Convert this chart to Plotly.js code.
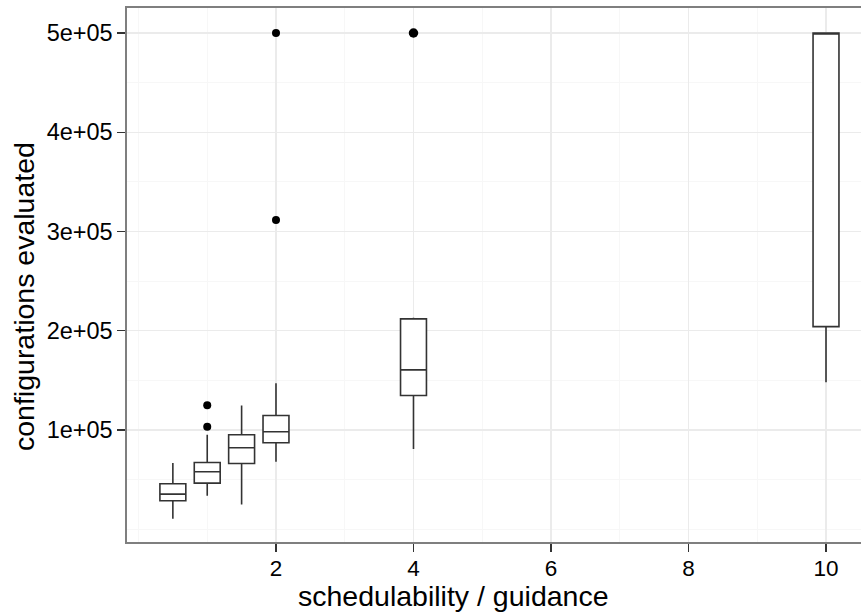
<!DOCTYPE html>
<html>
<head>
<meta charset="utf-8">
<script src="https://cdn.plot.ly/plotly-3.0.1.min.js"></script>
<style>html,body{margin:0;padding:0;background:#fff;}#chart{width:861px;height:612px;}</style>
</head>
<body>
<div id="chart"></div>
<script>
// box positions (schedulability / guidance)
const ratio = [0.5, 1, 1.5, 2, 4, 10];
// box statistics (configurations evaluated)
const lowerWhisker = [10600, 33700, 25000, 68000, 80800, 148200];
const q1 = [28700, 46500, 66300, 87100, 134700, 204200];
const median = [35400, 57900, 82100, 98200, 160600, 500000];
const q3 = [45800, 67300, 95200, 114600, 212000, 500000];
const upperWhisker = [66800, 95200, 124700, 147200, 213000, 500000];
// outliers
const outlierX = [1, 1, 2, 2, 4];
const outlierY = [125000, 103200, 311700, 500000, 500000];
const outlierSize = [8, 8, 8, 8, 9.5];
// axis ticks
const xTicks = [2, 4, 6, 8, 10];
const yTicks = [100000, 200000, 300000, 400000, 500000];
const yTickText = ['1e+05', '2e+05', '3e+05', '4e+05', '5e+05'];

const font = 'Liberation Sans, Arial, Helvetica, sans-serif';

const traces = [
  {
    type: 'box',
    x: ratio,
    q1: q1,
    median: median,
    q3: q3,
    lowerfence: lowerWhisker,
    upperfence: upperWhisker,
    width: 0.377,
    whiskerwidth: 0,
    boxpoints: false,
    fillcolor: '#ffffff',
    line: {color: '#333333', width: 1.6},
    hoverinfo: 'skip',
    showlegend: false
  },
  {
    type: 'scatter',
    mode: 'markers',
    x: outlierX,
    y: outlierY,
    marker: {color: '#000000', size: outlierSize, opacity: 1, line: {width: 0}},
    hoverinfo: 'skip',
    showlegend: false
  }
];

const layout = {
  width: 861,
  height: 612,
  margin: {l: 127, r: 0, t: 8, b: 70},
  paper_bgcolor: '#ffffff',
  plot_bgcolor: '#ffffff',
  showlegend: false,
  xaxis: {
    range: [-0.167, 10.509],
    tickvals: xTicks,
    ticktext: xTicks.map(String),
    ticks: 'outside',
    ticklen: 8,
    tickwidth: 1.3,
    tickcolor: '#333333',
    ticklabelstandoff: -3,
    tickfont: {family: font, size: 22.5, color: '#000000'},
    showgrid: true,
    gridcolor: '#ebebeb',
    gridwidth: 1.2,
    minor: {dtick: 1, tick0: 0, showgrid: true, gridcolor: '#f7f7f7', gridwidth: 1, ticks: ''},
    zeroline: false,
    showline: true,
    linecolor: '#7f7f7f',
    linewidth: 1.6,
    mirror: true,
    title: {text: ''}
  },
  yaxis: {
    range: [-12846, 525190],
    tickvals: yTicks,
    ticktext: yTickText,
    ticks: 'outside',
    ticklen: 8,
    tickwidth: 1.3,
    tickcolor: '#333333',
    tickfont: {family: font, size: 23.5, color: '#000000'},
    showgrid: true,
    gridcolor: '#ebebeb',
    gridwidth: 1.2,
    minor: {dtick: 50000, tick0: 0, showgrid: true, gridcolor: '#f7f7f7', gridwidth: 1, ticks: ''},
    zeroline: false,
    showline: true,
    linecolor: '#7f7f7f',
    linewidth: 1.6,
    mirror: false,
    title: {text: ''}
  },
  annotations: [
    {
      text: 'schedulability / guidance',
      xref: 'paper', yref: 'paper',
      x: 0.4455, y: -0.068,
      xanchor: 'center', yanchor: 'top',
      showarrow: false,
      font: {family: font, size: 28.5, color: '#000000'}
    },
    {
      text: 'configurations evaluated',
      xref: 'paper', yref: 'paper',
      x: -0.1403, y: 0.4588,
      xanchor: 'center', yanchor: 'middle',
      textangle: -90,
      showarrow: false,
      font: {family: font, size: 28.5, color: '#000000'}
    }
  ]
};

Plotly.newPlot('chart', traces, layout, {staticPlot: true, displayModeBar: false});
</script>
</body>
</html>
